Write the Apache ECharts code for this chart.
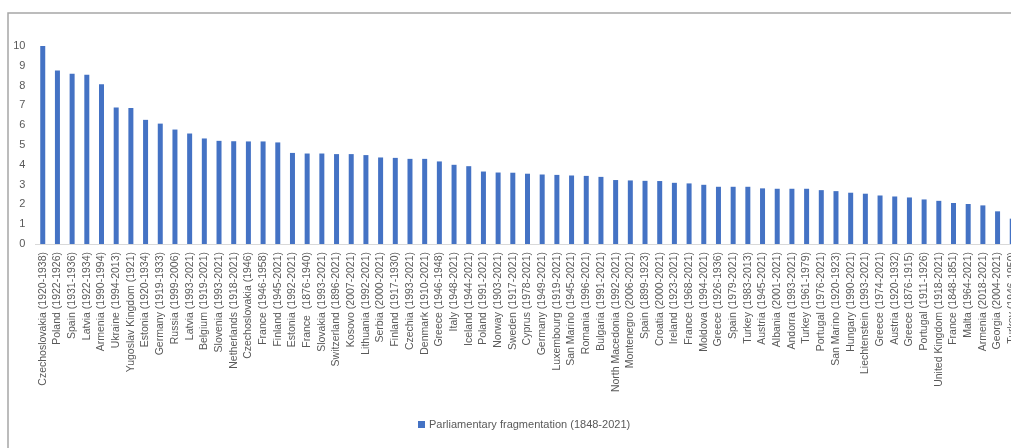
<!DOCTYPE html>
<html>
<head>
<meta charset="utf-8">
<script src="https://cdn.jsdelivr.net/npm/echarts@6/dist/echarts.min.js"></script>
<style>
  html, body { margin: 0; padding: 0; background: #ffffff; overflow: hidden; }
  #wrap { width: 1011px; height: 448px; overflow: hidden; }
  #chart { width: 1031px; height: 448px; }
</style>
</head>
<body>
<div id="wrap"><div id="chart"></div></div>
<script>
// Parliamentary fragmentation by country and period, sorted high to low
const categories = [
  'Czechoslovakia (1920-1938)', 'Poland (1922-1926)', 'Spain (1931-1936)', 'Latvia (1922-1934)',
  'Armenia (1990-1994)', 'Ukraine (1994-2013)', 'Yugoslav Kingdom (1921)', 'Estonia (1920-1934)',
  'Germany (1919-1933)', 'Russia (1999-2006)', 'Latvia (1993-2021)', 'Belgium (1919-2021)',
  'Slovenia (1993-2021)', 'Netherlands (1918-2021)', 'Czechoslovakia (1946)', 'France (1946-1958)',
  'Finland (1945-2021)', 'Estonia (1992-2021)', 'France  (1876-1940)', 'Slovakia (1993-2021)',
  'Switzerland (1896-2021)', 'Kosovo (2007-2021)', 'Lithuania (1992-2021)', 'Serbia (2000-2021)',
  'Finland (1917-1930)', 'Czechia (1993-2021)', 'Denmark (1910-2021)', 'Greece (1946-1948)',
  'Italy (1948-2021)', 'Iceland (1944-2021)', 'Poland (1991-2021)', 'Norway (1903-2021)',
  'Sweden (1917-2021)', 'Cyprus (1978-2021)', 'Germany (1949-2021)', 'Luxembourg (1919-2021)',
  'San Marino (1945-2021)', 'Romania (1996-2021)', 'Bulgaria (1991-2021)', 'North Macedonia (1992-2021)',
  'Montenegro (2006-2021)', 'Spain (1899-1923)', 'Croatia (2000-2021)', 'Ireland (1923-2021)',
  'France (1968-2021)', 'Moldova (1994-2021)', 'Greece (1926-1936)', 'Spain (1979-2021)',
  'Turkey (1983-2013)', 'Austria (1945-2021)', 'Albania (2001-2021)', 'Andorra (1993-2021)',
  'Turkey (1961-1979)', 'Portugal (1976-2021)', 'San Marino (1920-1923)', 'Hungary (1990-2021)',
  'Liechtenstein (1993-2021)', 'Greece (1974-2021)', 'Austria (1920-1932)', 'Greece (1876-1915)',
  'Portugal (1911-1926)', 'United Kingdom (1918-2021)', 'France (1848-1851)', 'Malta (1964-2021)',
  'Armenia (2018-2021)', 'Georgia (2004-2021)', 'Turkey (1946-1950)'
];

const fragmentation = [
  10.0, 8.76, 8.60, 8.55, 8.07, 6.89, 6.87, 6.27,
  6.08, 5.78, 5.58, 5.33, 5.21, 5.19, 5.18, 5.18,
  5.13, 4.60, 4.57, 4.57, 4.54, 4.54, 4.49, 4.37,
  4.35, 4.30, 4.30, 4.17, 4.00, 3.93, 3.66, 3.61,
  3.60, 3.55, 3.51, 3.49, 3.46, 3.44, 3.39, 3.23,
  3.21, 3.19, 3.18, 3.09, 3.06, 2.99, 2.89, 2.89,
  2.89, 2.81, 2.79, 2.79, 2.79, 2.72, 2.67, 2.59,
  2.54, 2.45, 2.40, 2.35, 2.25, 2.18, 2.07, 2.02,
  1.95, 1.65, 1.28
];

const yTicks = { min: 0, max: 10, step: 1 };
const seriesName = 'Parliamentary fragmentation (1848-2021)';

const chart = echarts.init(document.getElementById('chart'), null, { renderer: 'canvas' });

chart.setOption({
  animation: false,
  backgroundColor: '#ffffff',
  textStyle: { fontFamily: 'Liberation Sans, Arial, sans-serif' },
  graphic: [{
    type: 'rect',
    shape: { x: 8, y: 13, width: 1200, height: 600 },
    style: { fill: 'none', stroke: '#a6a6a6', lineWidth: 1.5 },
    z: 0,
    silent: true
  }],
  grid: { left: 35.4, right: 11.4, top: 46, bottom: 204 },
  legend: {
    left: 413,
    top: 414,
    itemWidth: 7,
    itemHeight: 7,
    itemGap: 4,
    icon: 'rect',
    textStyle: { color: '#595959', fontSize: 11, fontFamily: 'Liberation Sans, Arial, sans-serif', padding: [0, 0, 0, -1] },
    data: [seriesName]
  },
  xAxis: {
    type: 'category',
    data: categories,
    axisLine: { show: true, lineStyle: { color: '#d9d9d9', width: 1 } },
    axisTick: { show: false },
    axisLabel: {
      interval: 0,
      rotate: 90,
      margin: 8,
      color: '#595959',
      fontSize: 10.5,
      fontFamily: 'Liberation Sans, Arial, sans-serif'
    },
    splitLine: { show: false }
  },
  yAxis: {
    type: 'value',
    min: yTicks.min,
    max: yTicks.max,
    interval: yTicks.step,
    axisLine: { show: false },
    axisTick: { show: false },
    splitLine: { show: false },
    axisLabel: {
      color: '#595959',
      fontSize: 11,
      margin: 10,
      fontFamily: 'Liberation Sans, Arial, sans-serif'
    }
  },
  series: [{
    name: seriesName,
    type: 'bar',
    data: fragmentation,
    barWidth: 5,
    itemStyle: { color: '#4472c4' }
  }]
});
</script>
</body>
</html>
